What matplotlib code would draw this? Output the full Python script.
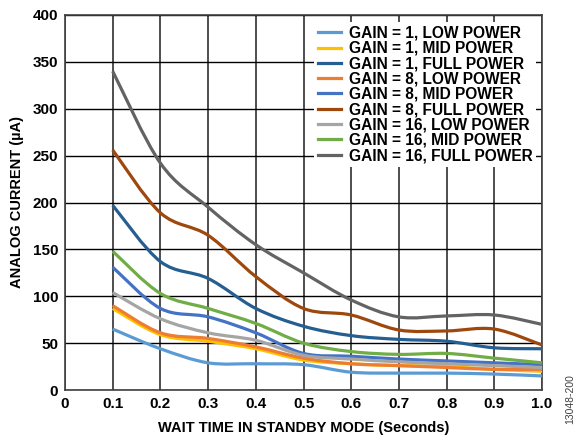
"""
 analog current vs. wait time in standby mode
"""
import matplotlib.pyplot as plt
import numpy as np
from matplotlib.path import Path
from matplotlib.patches import PathPatch
from matplotlib.lines import Line2D

plt.rcParams['font.family'] = ['Liberation Sans', 'DejaVu Sans']
plt.rcParams['font.weight'] = 'bold'

# Wait time [s]
#
t = [0.1, 0.2, 0.3, 0.4, 0.5, 0.6, 0.7, 0.8, 0.9, 1.0]

# Analog current [uA]
#
g1_low = [65, 44, 29, 28, 27, 19, 18, 18, 17, 15]
g1_mid = [87, 59, 52, 44, 32, 28, 26, 25, 22, 20]
g1_full = [197, 137, 119, 87, 68, 58, 54, 52, 45, 44]
g8_low = [90, 61, 55, 46, 34, 28, 26, 24, 22, 22]
g8_mid = [131, 87, 78, 61, 39, 36, 33, 31, 29, 27]
g8_full = [256, 189, 165, 121, 87, 80, 64, 63, 65, 48]
g16_low = [104, 76, 61, 53, 37, 33, 30, 28, 26, 24]
g16_mid = [148, 103, 87, 71, 50, 41, 38, 39, 34, 29]
g16_full = [340, 242, 195, 155, 125, 96, 78, 79, 80, 70]

labels = ['GAIN = 1, LOW POWER', 'GAIN = 1, MID POWER',
          'GAIN = 1, FULL POWER', 'GAIN = 8, LOW POWER',
          'GAIN = 8, MID POWER', 'GAIN = 8, FULL POWER',
          'GAIN = 16, LOW POWER', 'GAIN = 16, MID POWER',
          'GAIN = 16, FULL POWER']
series = [g1_low, g1_mid, g1_full, g8_low, g8_mid, g8_full,
          g16_low, g16_mid, g16_full]
colors = ['#5B9BD5', '#FFC000', '#255E91', '#ED7D31', '#4472C4',
          '#9E480E', '#A5A5A5', '#70AD47', '#636363']


def smooth_path(x, y):
    # Excel style smoothed line: cubic bezier through the points
    x = np.asarray(x, float)
    y = np.asarray(y, float)
    n = len(x)
    verts = [(x[0], y[0])]
    codes = [Path.MOVETO]
    for i in range(n-1):
        i0 = max(i-1, 0)
        i3 = min(i+2, n-1)
        c1 = (x[i] + (x[i+1]-x[i0])/6, y[i] + (y[i+1]-y[i0])/6)
        c2 = (x[i+1] - (x[i3]-x[i])/6, y[i+1] - (y[i3]-y[i])/6)
        verts += [c1, c2, (x[i+1], y[i+1])]
        codes += [Path.CURVE4]*3
    return Path(verts, codes)


fig = plt.figure(figsize=[5.79, 4.42], dpi=100)
ax = fig.add_axes([65/579, 52/442, 477/579, 375/442])

for k in range(len(series)):
    p = PathPatch(smooth_path(t, series[k]), facecolor='none',
                  edgecolor=colors[k], lw=2.3, capstyle='butt',
                  joinstyle='round', zorder=3)
    ax.add_patch(p)

ax.set_xlim(0, 1.0)
ax.set_ylim(0, 400)
ax.set_xticks(np.arange(0, 1.01, 0.1))
ax.set_xticklabels(['0'] + ['%.1f' % v for v in np.arange(0.1, 1.01, 0.1)])
ax.set_yticks(np.arange(0, 401, 50))
ax.grid(axis='x', color='#404040', lw=1.3)
ax.grid(axis='y', color='black', lw=1.0)
ax.set_axisbelow(True)
for s in ax.spines.values():
    s.set_color('#404040')
    s.set_linewidth(1.2)
ax.tick_params(length=0, labelsize=11, pad=5)

ax.set_xlabel('WAIT TIME IN STANDBY MODE (Seconds)', fontsize=10.5,
              fontweight='bold', labelpad=7)
ax.set_ylabel('ANALOG CURRENT (µA)', fontsize=10.5, fontweight='bold',
              labelpad=6)

handles = [Line2D([], [], color=c, lw=2.3) for c in colors]
leg = ax.legend(handles, labels, loc='upper right',
                bbox_to_anchor=(0.988, 0.982), fontsize=11.2, frameon=True,
                handlelength=1.5, handletextpad=0.5, labelspacing=0.02,
                borderpad=0.25, borderaxespad=0.0)
leg.get_frame().set_edgecolor('none')
leg.get_frame().set_facecolor('white')
leg.get_frame().set_alpha(1.0)
leg.set_zorder(5)
for txt in leg.get_texts():
    txt.set_fontweight('bold')

fig.text(0.985, 0.04, '13048-200', rotation=90, fontsize=7.5,
         color='#404040', fontweight='normal', ha='center', va='bottom')

plt.savefig('out.png', dpi=100)
